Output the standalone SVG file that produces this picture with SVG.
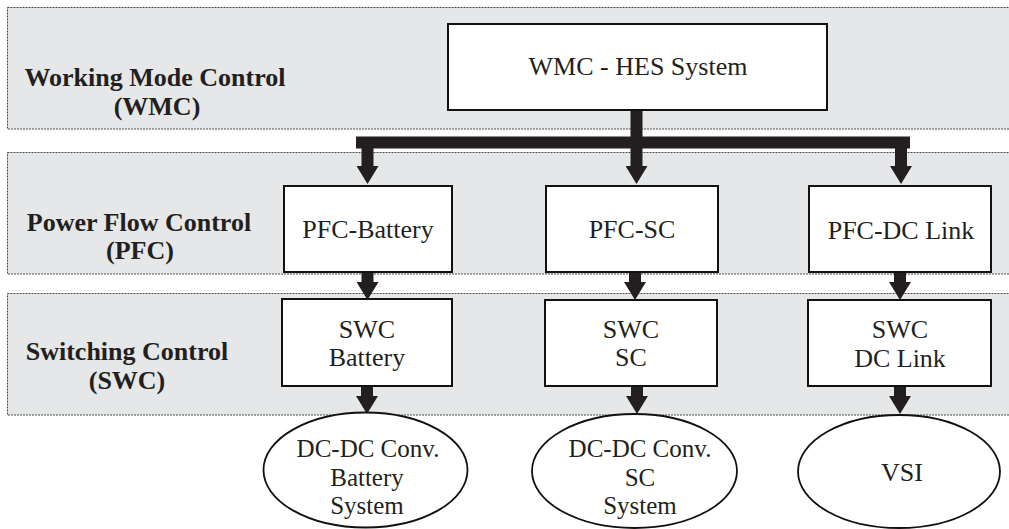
<svg xmlns="http://www.w3.org/2000/svg" width="1009" height="529" viewBox="0 0 1009 529" font-family="Liberation Serif, Tinos, Times New Roman, DejaVu Serif, serif">
<style>
.band{fill:#e6e7e8;stroke:#4a4a4a;stroke-width:1;stroke-dasharray:2,1}
.box{fill:#fff;stroke:#111;stroke-width:2}
.ell{fill:#fff;stroke:#111;stroke-width:1.8}
text{font-family:'Liberation Serif',Tinos,'Times New Roman','DejaVu Serif',serif;fill:#231f20;text-anchor:middle}
.lbl{font-size:26px;font-weight:bold}
.t{font-size:26px}
.te{font-size:25px}
.conn{fill:none;stroke:#231f20;stroke-width:12}
</style>
<defs>
<marker id="ah" markerUnits="userSpaceOnUse" viewBox="0 0 18 22" markerWidth="18" markerHeight="22" refX="0" refY="11" orient="auto">
<path d="M0,0 L18,11 L0,22 Z" fill="#231f20"/>
</marker>
</defs>
<g id="bands">
<rect class="band" x="7.5" y="7.5" width="1010" height="121.5"/>
<rect class="band" x="7.5" y="152.5" width="1010" height="121.5"/>
<rect class="band" x="7.5" y="293.5" width="1010" height="121.5"/>
<text class="lbl" x="155" y="86">Working Mode Control</text>
<text class="lbl" x="157" y="115">(WMC)</text>
<text class="lbl" x="139" y="231">Power Flow Control</text>
<text class="lbl" x="140" y="259">(PFC)</text>
<text class="lbl" x="127" y="360">Switching Control</text>
<text class="lbl" x="127" y="389">(SWC)</text>
</g>
<g id="connectors">
<line class="conn" x1="356" y1="142.5" x2="910" y2="142.5" stroke-width="11"/>
<path class="conn" d="M636.5,110 V166" stroke-width="13" marker-end="url(#ah)"/>
<path class="conn" d="M367.5,148 V166" stroke-width="11" marker-end="url(#ah)"/>
<path class="conn" d="M901,148 V166" stroke-width="11" marker-end="url(#ah)"/>
<path class="conn" d="M367.5,272 V282" marker-end="url(#ah)"/>
<path class="conn" d="M635,272 V282" marker-end="url(#ah)"/>
<path class="conn" d="M900,272 V282" marker-end="url(#ah)"/>
<path class="conn" d="M367,386 V396" marker-end="url(#ah)"/>
<path class="conn" d="M637,386 V396" marker-end="url(#ah)"/>
<path class="conn" d="M900,386 V396" marker-end="url(#ah)"/>
</g>
<g id="wmc-hes">
<rect class="box" x="448" y="24" width="379" height="86"/>
<text class="t" x="638" y="75">WMC - HES System</text>
</g>
<g id="pfc-battery">
<rect class="box" x="284" y="186" width="168" height="86"/>
<text class="t" x="368" y="238">PFC-Battery</text>
</g>
<g id="pfc-sc">
<rect class="box" x="546" y="186" width="172" height="86"/>
<text class="t" x="632" y="238">PFC-SC</text>
</g>
<g id="pfc-dclink">
<rect class="box" x="809" y="186" width="182" height="86"/>
<text class="t" x="901" y="239">PFC-DC Link</text>
</g>
<g id="swc-battery">
<rect class="box" x="282" y="299" width="170" height="87"/>
<text class="t" x="367" y="338">SWC</text>
<text class="t" x="367" y="366">Battery</text>
</g>
<g id="swc-sc">
<rect class="box" x="545" y="300" width="172" height="86"/>
<text class="t" x="631" y="338">SWC</text>
<text class="t" x="631" y="366">SC</text>
</g>
<g id="swc-dclink">
<rect class="box" x="808" y="300" width="183" height="86"/>
<text class="t" x="900" y="338">SWC</text>
<text class="t" x="900" y="367">DC Link</text>
</g>
<g id="dcdc-battery">
<ellipse class="ell" cx="365.5" cy="470" rx="102" ry="57.5"/>
<text class="te" x="368" y="457">DC-DC Conv.</text>
<text class="te" x="367" y="486">Battery</text>
<text class="te" x="367" y="514">System</text>
</g>
<g id="dcdc-sc">
<ellipse class="ell" cx="634.5" cy="471" rx="102.5" ry="57"/>
<text class="te" x="640" y="457">DC-DC Conv.</text>
<text class="te" x="640" y="486">SC</text>
<text class="te" x="640" y="514">System</text>
</g>
<g id="vsi">
<ellipse class="ell" cx="899" cy="471.5" rx="101" ry="56.5"/>
<text class="t" x="902" y="481">VSI</text>
</g>
</svg>
